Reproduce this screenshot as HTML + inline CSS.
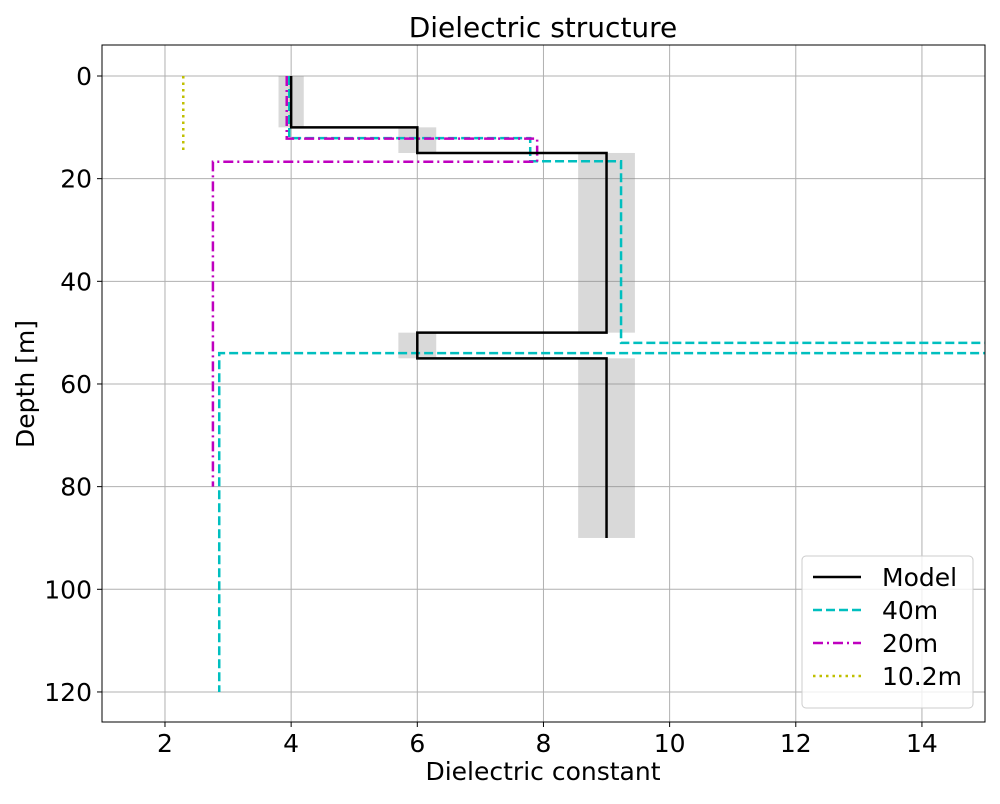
<!DOCTYPE html>
<html><head><meta charset="utf-8"><style>
body{margin:0;background:#fff;font-family:"DejaVu Sans","Liberation Sans",sans-serif}
</style></head><body>
<svg id="chart" width="1000" height="800" xmlns="http://www.w3.org/2000/svg" font-family="DejaVu Sans, Liberation Sans, sans-serif">
<defs><clipPath id="c"><rect x="102" y="45" width="883" height="677"/></clipPath></defs>
<rect width="1000" height="800" fill="#fff"/>
<g id="grid"></g>
<g id="bands"></g>
<g id="series" clip-path="url(#c)"></g>
<g id="ticks"></g>
<rect x="102" y="45" width="883" height="677" fill="none" stroke="#000" stroke-width="1"/>
<text x="543" y="37" font-size="28" text-anchor="middle">Dielectric structure</text>
<text x="543" y="780" font-size="25" text-anchor="middle">Dielectric constant</text>
<text x="34" y="384" font-size="25" text-anchor="middle" transform="rotate(-90 34 384)">Depth [m]</text>
<g>
<rect x="802" y="556" width="171" height="152" rx="4" fill="#fff" fill-opacity="0.8" stroke="#ccc"/>
<g><line x1="813" y1="577" x2="861" y2="577" stroke="#000" stroke-width="2.5"/><text x="882" y="586" font-size="25">Model</text></g>
<g><line x1="813" y1="610" x2="861" y2="610" stroke="#00bfbf" stroke-width="2.5" stroke-dasharray="9,4"/><text x="882" y="619" font-size="25">40m</text></g>
<g><line x1="813" y1="643" x2="861" y2="643" stroke="#bf00bf" stroke-width="2.5" stroke-dasharray="10,4,2,4"/><text x="882" y="652" font-size="25">20m</text></g>
<g><line x1="813" y1="676" x2="861" y2="676" stroke="#bfbf00" stroke-width="2.5" stroke-dasharray="2.5,4"/><text x="882" y="685" font-size="25">10.2m</text></g>
</g>
</svg>
<script>
const xTicks=[2,4,6,8,10,12,14];
const yTicks=[0,20,40,60,80,100,120];
const modelEps=[4,6,9,6,9];
const modelTop=[0,10,15,50,55];
const modelBot=[10,15,50,55,90];
const eps40=[3.97,7.79,9.23,16,2.86];
const bnd40=[0,12.1,16.6,52,54,120];
const eps20=[3.93,7.9,2.76];
const bnd20=[0,12.2,16.7,80];
const eps10=[2.29];
const bnd10=[0,15];
const NS='http://www.w3.org/2000/svg';
const X=v=>101.9+(v-1)*63.08;
const Y=d=>76+d*5.133;
function mk(tag,attrs,parent){const e=document.createElementNS(NS,tag);for(const k in attrs)e.setAttribute(k,attrs[k]);document.getElementById(parent).appendChild(e);return e;}
xTicks.forEach(t=>{
 const l=mk('line',{x1:X(t),x2:X(t),y1:45,y2:722,stroke:'#b0b0b0','stroke-width':1},'grid');
 
 
 mk('line',{x1:X(t),x2:X(t),y1:722,y2:727,stroke:'#000'},'ticks');
 const tx=mk('text',{x:X(t),y:752,'font-size':25,'text-anchor':'middle'},'ticks');tx.textContent=t;
 
 
});
yTicks.forEach(t=>{
 const l=mk('line',{x1:102,x2:985,y1:Y(t),y2:Y(t),stroke:'#b0b0b0','stroke-width':1},'grid');
 
 
 mk('line',{x1:97,x2:102,y1:Y(t),y2:Y(t),stroke:'#000'},'ticks');
 const tx=mk('text',{x:92,y:Y(t)+9,'font-size':25,'text-anchor':'end'},'ticks');tx.textContent=t;
 
 
});
modelEps.forEach((e,i)=>{
 const r=mk('rect',{x:X(e*0.95),y:Y(modelTop[i]),width:X(e*1.05)-X(e*0.95),height:Y(modelBot[i])-Y(modelTop[i]),fill:'#808080','fill-opacity':0.3},'bands');
 
 
});
function step(eps,bnd){let p=[];eps.forEach((e,i)=>{p.push(X(e)+','+Y(bnd[i]));p.push(X(e)+','+Y(bnd[i+1]));});return p.join(' ');}
let mp=[];modelEps.forEach((e,i)=>{mp.push(X(e)+','+Y(modelTop[i]));mp.push(X(e)+','+Y(modelBot[i]));});
const defs=[
 [step(eps40,bnd40),'#00bfbf','9,4','line-40m'],
 [step(eps20,bnd20),'#bf00bf','10,4,2,4','line-20m'],
 [step(eps10,bnd10),'#bfbf00','2.5,4','line-10-2m'],
 [mp.join(' '),'#000','none','line-model']];
defs.forEach(d=>{
 const pl=mk('polyline',{points:d[0],fill:'none',stroke:d[1],'stroke-width':2.5,'stroke-dasharray':d[2]},'series');
 
 
});
</script>
</body></html>
